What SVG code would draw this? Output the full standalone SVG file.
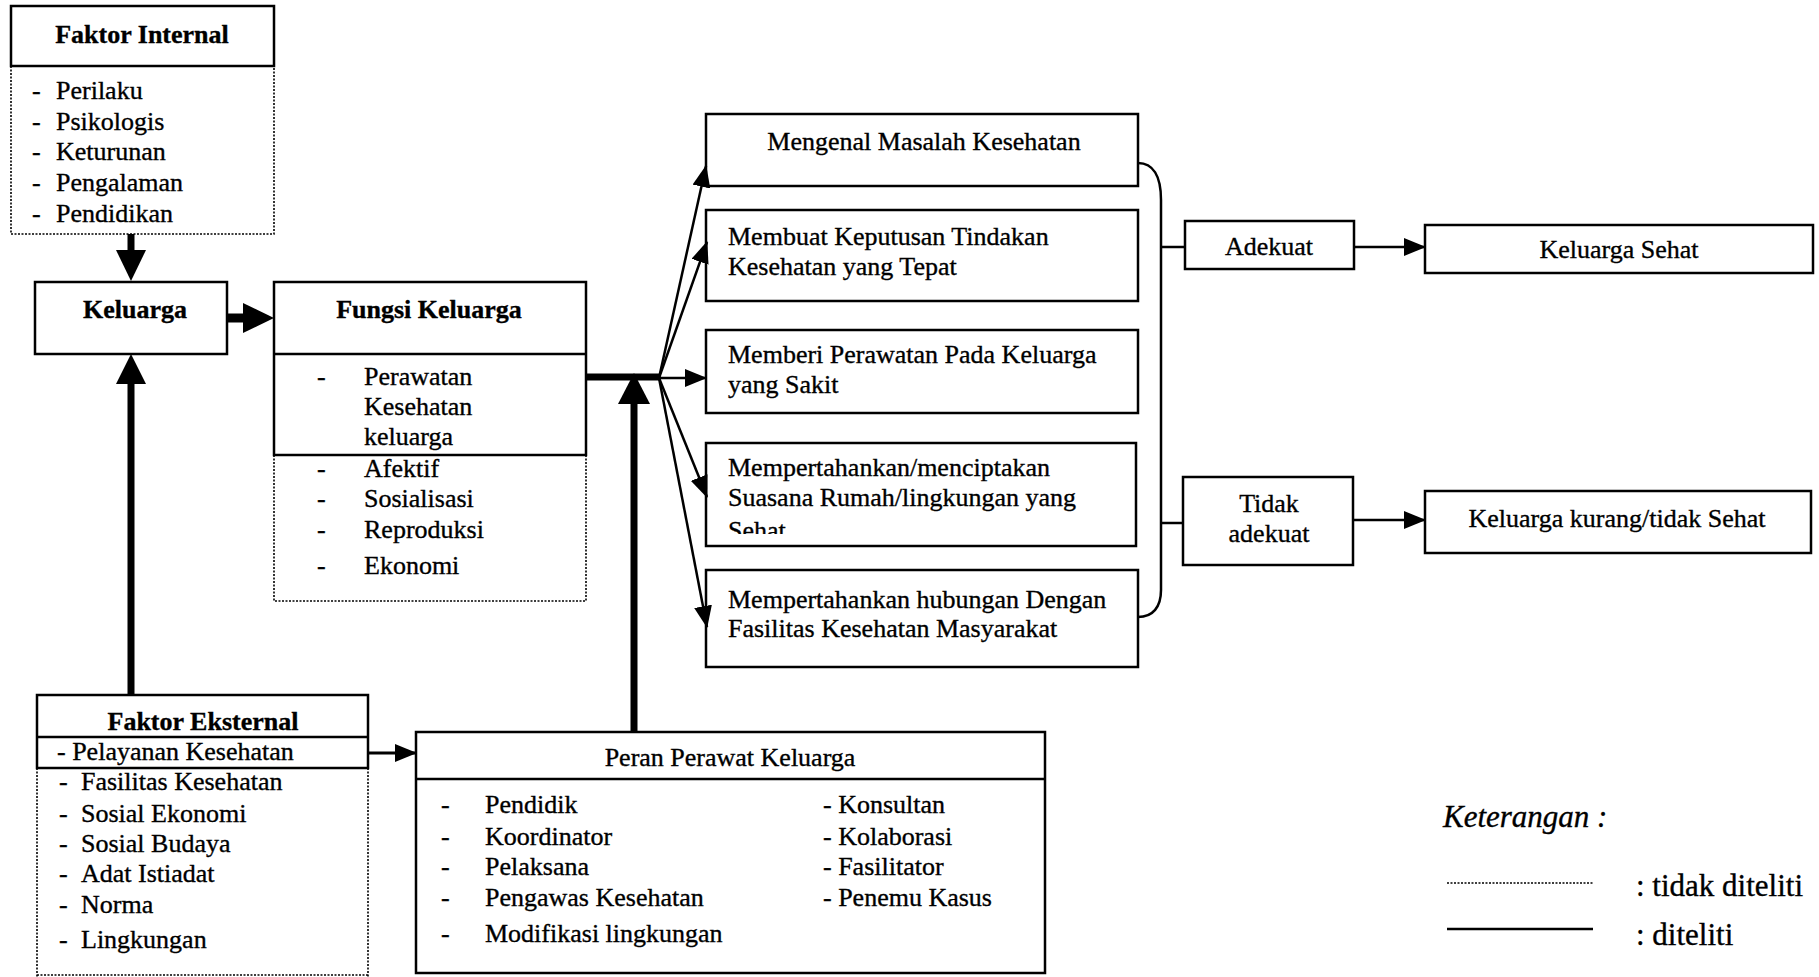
<svg xmlns="http://www.w3.org/2000/svg" width="1819" height="977" viewBox="0 0 1819 977">
<style>
text{font-family:"Liberation Serif","Times New Roman",serif;font-size:26px;fill:#000;stroke:#000;stroke-width:0.35}
.b{font-weight:bold}
.c{text-anchor:middle}
.box{fill:none;stroke:#000;stroke-width:2.5}
.dot{fill:none;stroke:#000;stroke-width:1.6;stroke-dasharray:2 1.5}
.thick{stroke:#000;stroke-width:7;fill:none}
.thin{stroke:#000;stroke-width:2.5;fill:none;marker-end:url(#ah)}
.head{fill:#000}
.leg{font-size:31px}
</style>
<defs>
<marker id="ah" markerUnits="userSpaceOnUse" markerWidth="22" markerHeight="18" viewBox="0 0 22 18" refX="21" refY="9" orient="auto">
<path d="M0,0 L22,9 L0,18 z" fill="#000"/>
</marker>
<clipPath id="clip4"><rect x="706" y="443" width="430" height="91"/></clipPath>
</defs>
<rect width="1819" height="977" fill="#fff"/>

<g id="connectors">
<line class="thick" x1="131" y1="234" x2="131" y2="252"/>
<polygon class="head" points="116,250 146,250 131,281"/>
<line class="thick" x1="227" y1="318" x2="246" y2="318" style="stroke-width:9"/>
<polygon class="head" points="243,303 243,333 274,318"/>
<line class="thick" x1="131" y1="695" x2="131" y2="381"/>
<polygon class="head" points="116,384 146,384 131,354"/>
<line class="thick" x1="586" y1="377" x2="660" y2="377"/>
<line class="thick" x1="634" y1="731" x2="634" y2="401"/>
<polygon class="head" points="618,404 650,404 634,373"/>
<line class="thin" x1="659" y1="378" x2="706" y2="166"/>
<line class="thin" x1="659" y1="378" x2="707" y2="242"/>
<line class="thin" x1="659" y1="378" x2="706" y2="378"/>
<line class="thin" x1="659" y1="378" x2="707" y2="497"/>
<line class="thin" x1="659" y1="378" x2="707" y2="627"/>
<line class="thin" x1="368" y1="753" x2="416" y2="753" style="stroke-width:3"/>
<path d="M1138,163 C1153,163 1161,176 1161,200 L1161,590 C1161,607 1153,617 1138,617" fill="none" stroke="#000" stroke-width="2.5"/>
<line x1="1161" y1="247" x2="1185" y2="247" stroke="#000" stroke-width="2.5"/>
<line x1="1161" y1="523" x2="1183" y2="523" stroke="#000" stroke-width="2.5"/>
<line class="thin" x1="1354" y1="247" x2="1425" y2="247"/>
<line class="thin" x1="1353" y1="520" x2="1425" y2="520"/>
</g>

<g id="faktor-internal">
<rect class="box" x="11" y="6" width="263" height="60"/>
<path class="dot" d="M11,66 L11,234 L274,234 L274,66"/>
<text class="b c" x="142" y="43">Faktor Internal</text>
<text x="32" y="99">-</text><text x="56" y="99">Perilaku</text>
<text x="32" y="129.5">-</text><text x="56" y="129.5">Psikologis</text>
<text x="32" y="160">-</text><text x="56" y="160">Keturunan</text>
<text x="32" y="190.5">-</text><text x="56" y="190.5">Pengalaman</text>
<text x="32" y="222">-</text><text x="56" y="222">Pendidikan</text>
</g>

<g id="keluarga">
<rect class="box" x="35" y="282" width="192" height="72"/>
<text class="b c" x="135" y="318">Keluarga</text>
</g>

<g id="fungsi-keluarga">
<rect class="box" x="274" y="282" width="312" height="173"/>
<line x1="274" y1="354" x2="586" y2="354" stroke="#000" stroke-width="2.5"/>
<path class="dot" d="M274,455 L274,601 L586,601 L586,455"/>
<text class="b c" x="429" y="318">Fungsi Keluarga</text>
<text x="317" y="385">-</text><text x="364" y="385">Perawatan</text>
<text x="364" y="415">Kesehatan</text>
<text x="364" y="445">keluarga</text>
<text x="317" y="477">-</text><text x="364" y="477">Afektif</text>
<text x="317" y="507">-</text><text x="364" y="507">Sosialisasi</text>
<text x="317" y="538">-</text><text x="364" y="538">Reproduksi</text>
<text x="317" y="574">-</text><text x="364" y="574">Ekonomi</text>
</g>

<g id="mengenal">
<rect class="box" x="706" y="114" width="432" height="72"/>
<text class="c" x="924" y="150">Mengenal Masalah Kesehatan</text>
</g>
<g id="membuat">
<rect class="box" x="706" y="210" width="432" height="91"/>
<text x="728" y="245">Membuat Keputusan Tindakan</text>
<text x="728" y="275">Kesehatan yang Tepat</text>
</g>
<g id="memberi">
<rect class="box" x="706" y="330" width="432" height="83"/>
<text x="728" y="363">Memberi Perawatan Pada Keluarga</text>
<text x="728" y="393">yang Sakit</text>
</g>
<g id="mempertahankan-suasana">
<rect class="box" x="706" y="443" width="430" height="103"/>
<g clip-path="url(#clip4)">
<text x="728" y="476">Mempertahankan/menciptakan</text>
<text x="728" y="506">Suasana Rumah/lingkungan yang</text>
<text x="728" y="539">Sehat</text>
</g>
</g>
<g id="mempertahankan-hubungan">
<rect class="box" x="706" y="570" width="432" height="97"/>
<text x="728" y="608">Mempertahankan hubungan Dengan</text>
<text x="728" y="637">Fasilitas Kesehatan Masyarakat</text>
</g>

<g id="adekuat">
<rect class="box" x="1185" y="221" width="169" height="48"/>
<text class="c" x="1269" y="255">Adekuat</text>
</g>
<g id="keluarga-sehat">
<rect class="box" x="1425" y="225" width="388" height="48"/>
<text class="c" x="1619" y="258">Keluarga Sehat</text>
</g>
<g id="tidak-adekuat">
<rect class="box" x="1183" y="477" width="170" height="88"/>
<text class="c" x="1269" y="512">Tidak</text>
<text class="c" x="1269" y="542">adekuat</text>
</g>
<g id="keluarga-kurang">
<rect class="box" x="1425" y="491" width="386" height="62"/>
<text class="c" x="1617" y="527">Keluarga kurang/tidak Sehat</text>
</g>

<g id="faktor-eksternal">
<rect class="box" x="37" y="695" width="331" height="73"/>
<line x1="37" y1="737" x2="368" y2="737" stroke="#000" stroke-width="2.5"/>
<path class="dot" d="M37,768 L37,977 M368,768 L368,977 M37,975 L368,975"/>
<text class="b c" x="203" y="730">Faktor Eksternal</text>
<text x="57" y="760">- Pelayanan Kesehatan</text>
<text x="59" y="790">-</text><text x="81" y="790">Fasilitas Kesehatan</text>
<text x="59" y="822">-</text><text x="81" y="822">Sosial Ekonomi</text>
<text x="59" y="852">-</text><text x="81" y="852">Sosial Budaya</text>
<text x="59" y="882">-</text><text x="81" y="882">Adat Istiadat</text>
<text x="59" y="913">-</text><text x="81" y="913">Norma</text>
<text x="59" y="948">-</text><text x="81" y="948">Lingkungan</text>
</g>

<g id="peran-perawat">
<rect class="box" x="416" y="732" width="629" height="241"/>
<line x1="416" y1="779" x2="1045" y2="779" stroke="#000" stroke-width="2.5"/>
<text class="c" x="730" y="766">Peran Perawat Keluarga</text>
<text x="441" y="813">-</text><text x="485" y="813">Pendidik</text>
<text x="441" y="845">-</text><text x="485" y="845">Koordinator</text>
<text x="441" y="875">-</text><text x="485" y="875">Pelaksana</text>
<text x="441" y="906">-</text><text x="485" y="906">Pengawas Kesehatan</text>
<text x="441" y="942">-</text><text x="485" y="942">Modifikasi lingkungan</text>
<text x="823" y="813">- Konsultan</text>
<text x="823" y="845">- Kolaborasi</text>
<text x="823" y="875">- Fasilitator</text>
<text x="823" y="906">- Penemu Kasus</text>
</g>

<g id="legend">
<text class="leg" x="1443" y="827" font-style="italic">Keterangan :</text>
<line class="dot" x1="1447" y1="883" x2="1593" y2="883"/>
<text class="leg" x="1636" y="896">: tidak diteliti</text>
<line x1="1447" y1="929" x2="1593" y2="929" stroke="#000" stroke-width="2.5"/>
<text class="leg" x="1636" y="945">: diteliti</text>
</g>
</svg>
